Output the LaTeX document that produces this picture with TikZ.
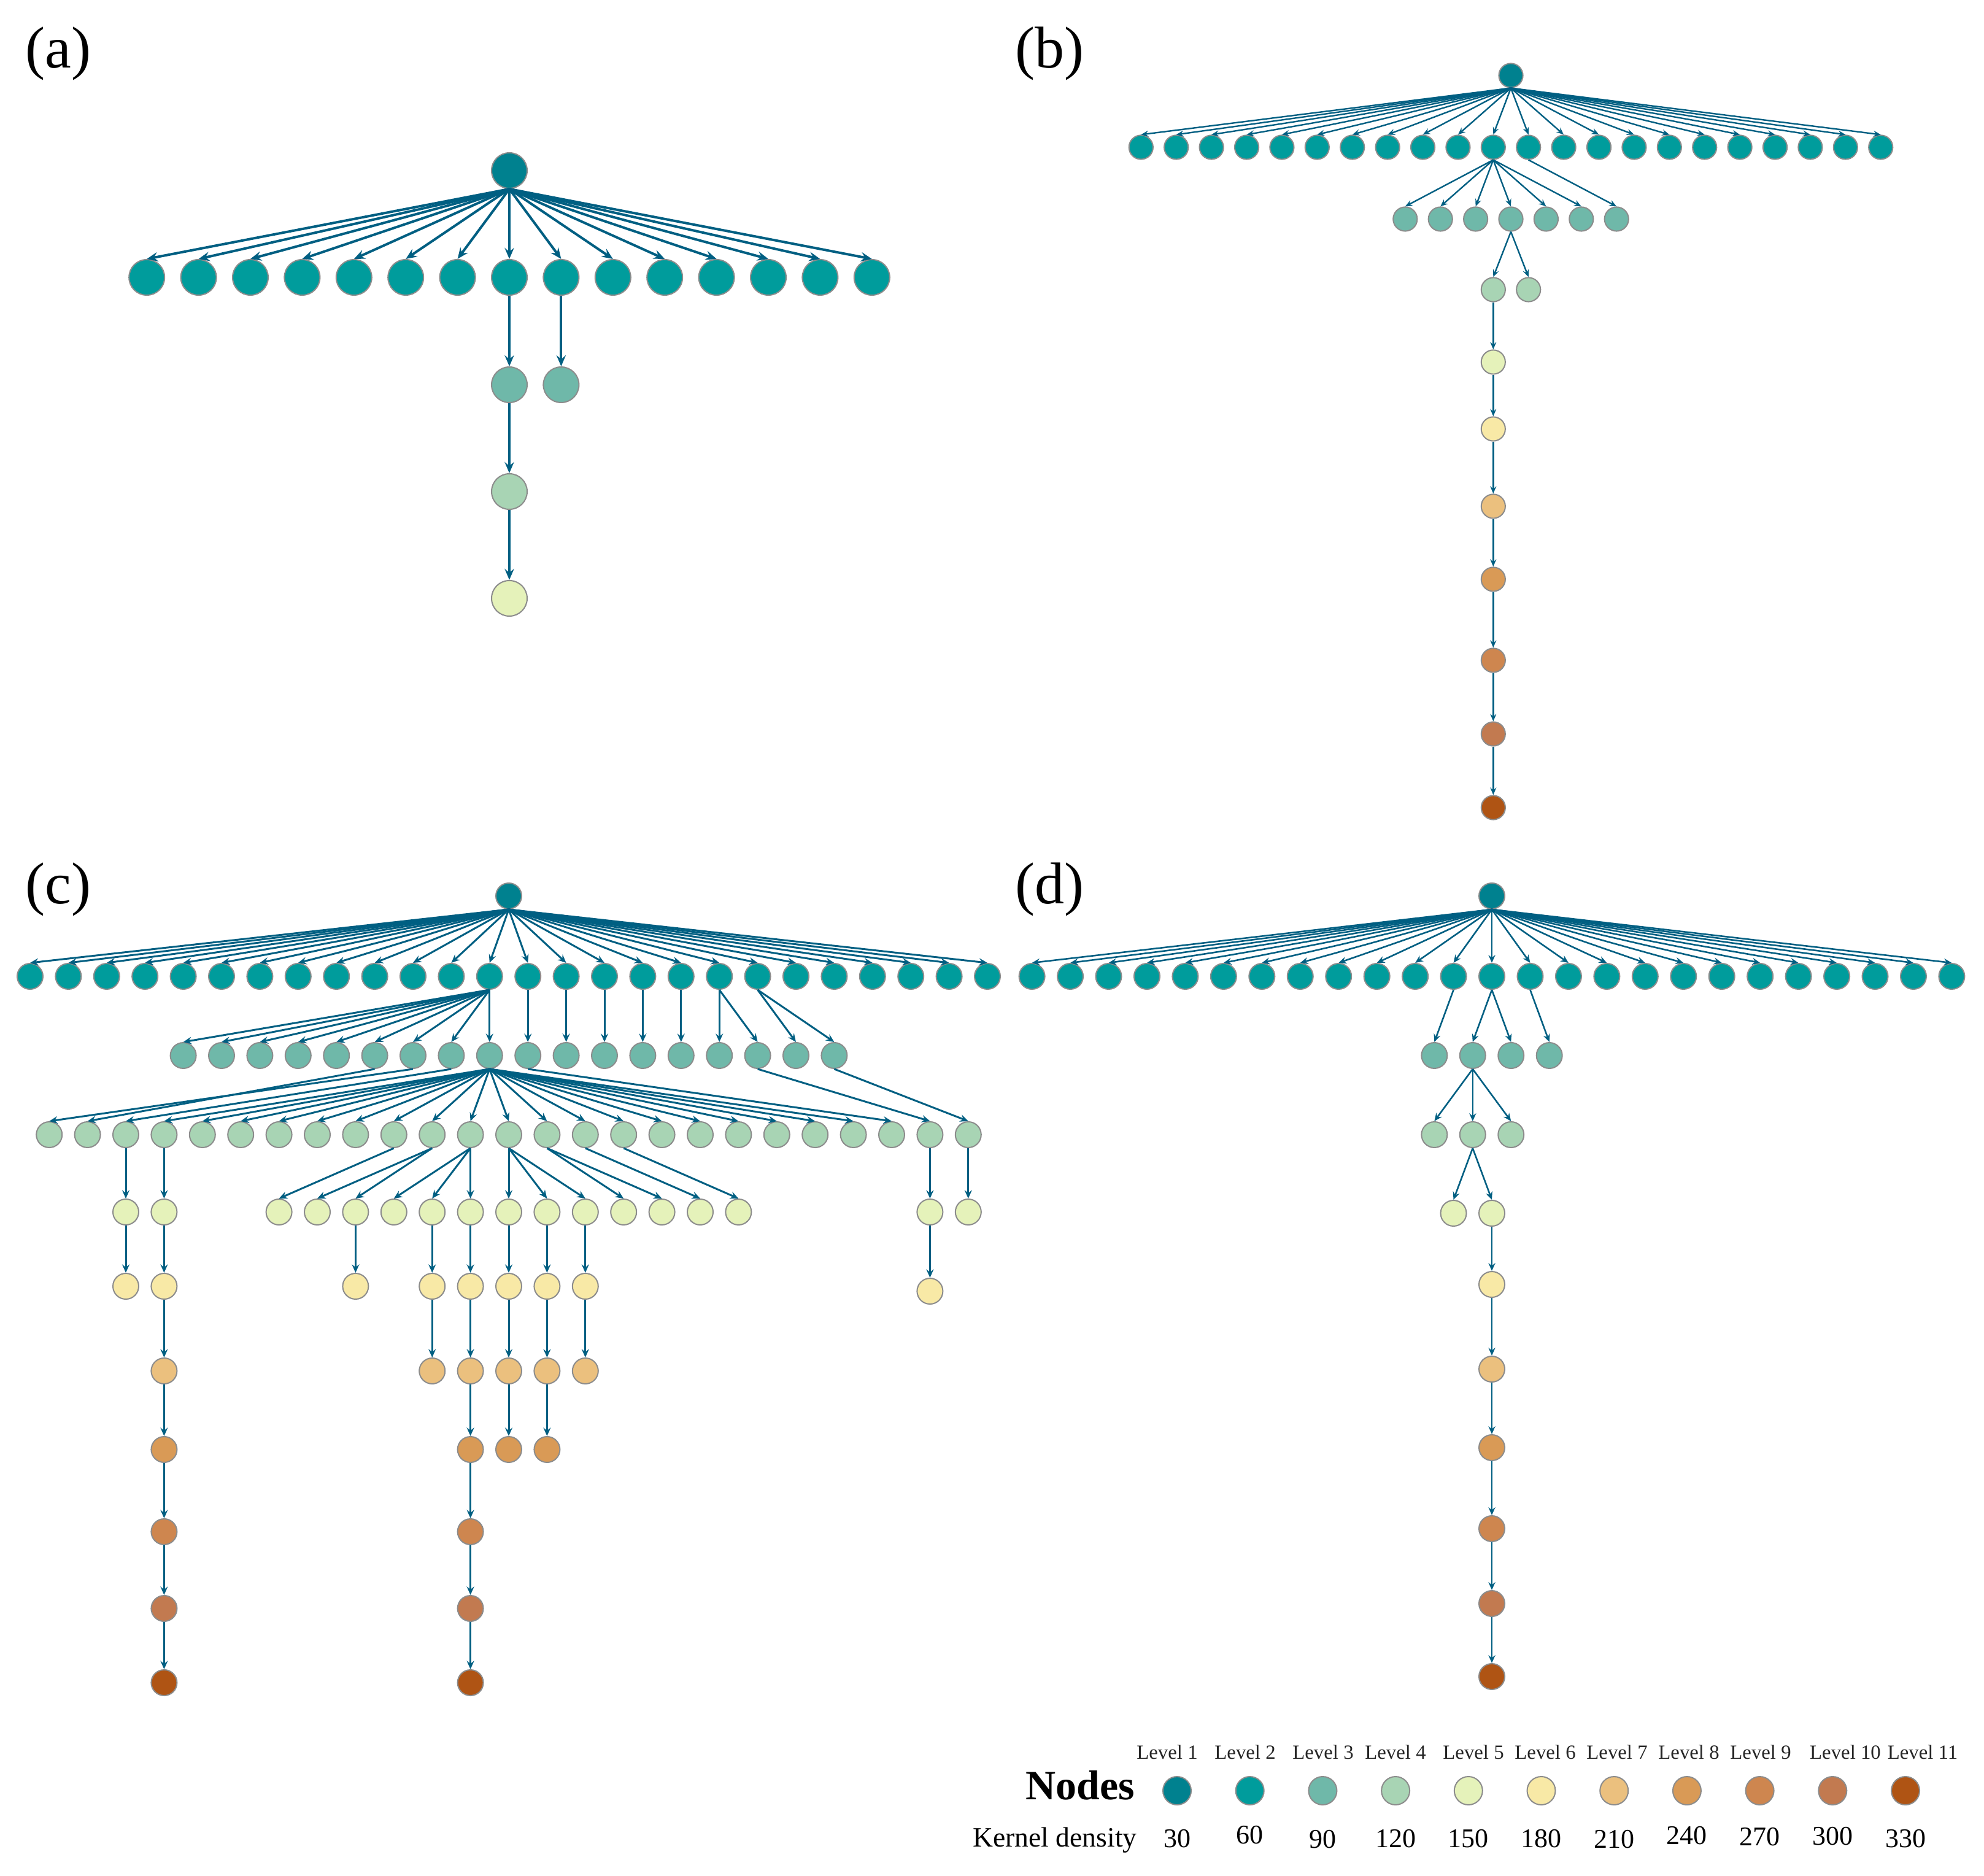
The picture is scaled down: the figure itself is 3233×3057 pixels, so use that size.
\documentclass[tikz,border=0pt]{standalone}
\usepackage{fontspec}
\setmainfont{Liberation Serif}
\usetikzlibrary{arrows.meta}
\definecolor{L1}{RGB}{0,129,143}
\definecolor{L2}{RGB}{0,156,156}
\definecolor{L3}{RGB}{111,184,169}
\definecolor{L4}{RGB}{168,212,180}
\definecolor{L5}{RGB}{229,242,186}
\definecolor{L6}{RGB}{248,233,166}
\definecolor{L7}{RGB}{235,192,126}
\definecolor{L8}{RGB}{217,154,86}
\definecolor{L9}{RGB}{206,134,79}
\definecolor{L10}{RGB}{194,122,80}
\definecolor{L11}{RGB}{175,84,20}
\definecolor{edgecol}{RGB}{0,95,130}
\definecolor{ndborder}{RGB}{140,140,140}
\tikzset{
  nd/.style={circle,draw=ndborder,line width=0.5pt,inner sep=0pt},
  nda/.style={nd,minimum size=14.5pt},
  ndb/.style={nd,minimum size=9.8pt},
  ndc/.style={nd,minimum size=10.5pt},
  lgnd/.style={nd,minimum size=11.5pt},
  eda/.style={draw=edgecol,line width=1pt,-{Stealth[length=4.5pt,width=3.8pt,inset=1.6pt]}},
  edb/.style={draw=edgecol,line width=0.6pt,-{Stealth[length=3pt,width=2.5pt,inset=1.1pt]}},
  edc/.style={draw=edgecol,line width=0.75pt,-{Stealth[length=3.4pt,width=3pt,inset=1.2pt]}},
  edd/.style={draw=edgecol,line width=0.65pt,-{Stealth[length=3.2pt,width=2.8pt,inset=1.1pt]}},
  plabel/.style={inner sep=0pt,anchor=base west,font=\fontsize{24pt}{28pt}\selectfont},
  lvlabel/.style={inner sep=0pt,anchor=base,text=black!85,font=\fontsize{8.2pt}{10pt}\selectfont},
  numlabel/.style={inner sep=0pt,anchor=base,font=\fontsize{11pt}{13pt}\selectfont}
}
\begin{document}
\begin{tikzpicture}[x=0.25pt,y=-0.25pt]
\useasboundingbox (0,0) rectangle (3233,3057);

% ---------- panel labels
\node[plabel] (la) at (41,111) {(a)};
\node[plabel] (lb) at (1654,111) {(b)};
\node[plabel] (lc) at (41,1472) {(c)};
\node[plabel] (ld) at (1654,1472) {(d)};

% ---------- panel (a)
\node[nda,fill=L1] (a0) at (830,278) {};
\foreach \i in {0,...,14} {
  \node[nda,fill=L2] (a2-\i) at ({830+84.4*(\i-7)},452) {};
  \draw[eda] (a0.south) -- (a2-\i.north);
}
\node[nda,fill=L3] (a3-0) at (830,627) {};
\node[nda,fill=L3] (a3-1) at (914.4,627) {};
\node[nda,fill=L4] (a4) at (830,801) {};
\node[nda,fill=L5] (a5) at (830,975) {};
\draw[eda] (a2-7.south) -- (a3-0.north);
\draw[eda] (a2-8.south) -- (a3-1.north);
\draw[eda] (a3-0.south) -- (a4.north);
\draw[eda] (a4.south) -- (a5.north);

% ---------- panel (b)
\node[ndb,fill=L1] (b0) at (2462,123) {};
\foreach \i in {0,...,21} {
  \node[ndb,fill=L2] (b2-\i) at ({2462+57.4*(\i-10.5)},240) {};
  \draw[edb] (b0.south) -- (b2-\i.north);
}
\foreach \m in {0,...,6} {
  \node[ndb,fill=L3] (b3-\m) at ({2462+57.4*(\m-3)},357) {};
}
\foreach \m in {0,...,5} { \draw[edb] (b2-10.south) -- (b3-\m.north); }
\draw[edb] (b2-11.south) -- (b3-6.north);
\node[ndb,fill=L4] (b4-0) at (2433.3,472) {};
\node[ndb,fill=L4] (b4-1) at (2490.7,472) {};
\draw[edb] (b3-3.south) -- (b4-0.north);
\draw[edb] (b3-3.south) -- (b4-1.north);
\node[ndb,fill=L5] (b5) at (2433.3,590) {};
\node[ndb,fill=L6] (b6) at (2433.3,699) {};
\node[ndb,fill=L7] (b7) at (2433.3,825) {};
\node[ndb,fill=L8] (b8) at (2433.3,944) {};
\node[ndb,fill=L9] (b9) at (2433.3,1076) {};
\node[ndb,fill=L10] (b10) at (2433.3,1196) {};
\node[ndb,fill=L11] (b11) at (2433.3,1316) {};
\draw[edb] (b4-0.south) -- (b5.north);
\draw[edb] (b5.south) -- (b6.north);
\draw[edb] (b6.south) -- (b7.north);
\draw[edb] (b7.south) -- (b8.north);
\draw[edb] (b8.south) -- (b9.north);
\draw[edb] (b9.south) -- (b10.north);
\draw[edb] (b10.south) -- (b11.north);

% ---------- panel (c)
\node[ndc,fill=L1] (c0) at (829,1460) {};
\foreach \i in {0,...,25} {
  \node[ndc,fill=L2] (c2-\i) at ({829+62.4*(\i-12.5)},1591) {};
  \draw[edc] (c0.south) -- (c2-\i.north);
}
\foreach \j in {0,...,17} {
  \node[ndc,fill=L3] (c3-\j) at ({829+62.4*(\j-8.5)},1720) {};
}
\foreach \j in {0,...,8} { \draw[edc] (c2-12.south) -- (c3-\j.north); }
\foreach \p/\q in {13/9,14/10,15/11,16/12,17/13,18/14,18/15,19/16,19/17} {
  \draw[edc] (c2-\p.south) -- (c3-\q.north);
}
\foreach \k in {0,...,24} {
  \node[ndc,fill=L4] (c4-\k) at ({829+62.4*(\k-12)},1849) {};
}
\foreach \k in {3,...,21} { \draw[edc] (c3-8.south) -- (c4-\k.north); }
\foreach \p/\q in {6/0,5/1,7/2,9/22,15/23,17/24} {
  \draw[edc] (c3-\p.south) -- (c4-\q.north);
}
\foreach \k in {2,3,6,7,8,9,10,11,12,13,14,15,16,17,18,23,24} {
  \node[ndc,fill=L5] (c5-\k) at ({829+62.4*(\k-12)},1975) {};
}
\foreach \p/\q in {2/2,3/3,9/6,10/7,10/8,11/9,11/10,11/11,12/12,12/13,12/14,13/15,13/16,14/17,15/18,23/23,24/24} {
  \draw[edc] (c4-\p.south) -- (c5-\q.north);
}
\foreach \k in {2,3,8,10,11,12,13,14} {
  \node[ndc,fill=L6] (c6-\k) at ({829+62.4*(\k-12)},2096) {};
}
\node[ndc,fill=L6] (c6-23) at ({829+62.4*11},2104) {};
\foreach \k in {2,3,8,10,11,12,13,14,23} { \draw[edc] (c5-\k.south) -- (c6-\k.north); }
\foreach \k in {3,10,11,12,13,14} {
  \node[ndc,fill=L7] (c7-\k) at ({829+62.4*(\k-12)},2234) {};
  \draw[edc] (c6-\k.south) -- (c7-\k.north);
}
\foreach \k in {3,11,12,13} {
  \node[ndc,fill=L8] (c8-\k) at ({829+62.4*(\k-12)},2362) {};
  \draw[edc] (c7-\k.south) -- (c8-\k.north);
}
\foreach \k in {3,11} {
  \node[ndc,fill=L9] (c9-\k) at ({829+62.4*(\k-12)},2496) {};
  \node[ndc,fill=L10] (c10-\k) at ({829+62.4*(\k-12)},2621) {};
  \node[ndc,fill=L11] (c11-\k) at ({829+62.4*(\k-12)},2742) {};
  \draw[edc] (c8-\k.south) -- (c9-\k.north);
  \draw[edc] (c9-\k.south) -- (c10-\k.north);
  \draw[edc] (c10-\k.south) -- (c11-\k.north);
}

% ---------- panel (d)
\node[ndc,fill=L1] (d0) at (2431,1460) {};
\foreach \i in {0,...,24} {
  \node[ndc,fill=L2] (d2-\i) at ({2431+62.45*(\i-12)},1591) {};
  \draw[edd] (d0.south) -- (d2-\i.north);
}
\foreach \m in {0,...,3} {
  \node[ndc,fill=L3] (d3-\m) at ({2431+62.45*(\m-1.5)},1720) {};
}
\foreach \p/\q in {11/0,12/1,12/2,13/3} { \draw[edd] (d2-\p.south) -- (d3-\q.north); }
\foreach \n in {0,1,2} {
  \node[ndc,fill=L4] (d4-\n) at ({2431+62.45*(\n-1.5)},1849) {};
  \draw[edd] (d3-1.south) -- (d4-\n.north);
}
\node[ndc,fill=L5] (d5-0) at (2368.5,1977) {};
\node[ndc,fill=L5] (d5-1) at (2431,1977) {};
\draw[edd] (d4-1.south) -- (d5-0.north);
\draw[edd] (d4-1.south) -- (d5-1.north);
\node[ndc,fill=L6] (d6) at (2431,2093) {};
\node[ndc,fill=L7] (d7) at (2431,2231) {};
\node[ndc,fill=L8] (d8) at (2431,2359) {};
\node[ndc,fill=L9] (d9) at (2431,2491) {};
\node[ndc,fill=L10] (d10) at (2431,2613) {};
\node[ndc,fill=L11] (d11) at (2431,2732) {};
\draw[edd] (d5-1.south) -- (d6.north);
\draw[edd] (d6.south) -- (d7.north);
\draw[edd] (d7.south) -- (d8.north);
\draw[edd] (d8.south) -- (d9.north);
\draw[edd] (d9.south) -- (d10.north);
\draw[edd] (d10.south) -- (d11.north);

% ---------- legend
\foreach \n/\lx/\num/\ny in {1/1902/30/3010,2/2029/60/3004,3/2156/90/3011,4/2274/120/3010,5/2401/150/3010,6/2518/180/3010,7/2635/210/3011,8/2752/240/3005,9/2869/270/3007,10/3007/300/3006,11/3133/330/3010} {
  \node[lgnd,fill=L\n] (lg-\n) at ({1918+118.7*(\n-1)},2918) {};
  \node[lvlabel] (lv-\n) at (\lx,2866) {Level \n};
  \node[numlabel] (kd-\n) at ({1918+118.7*(\n-1)},\ny) {\num};
}
\node[inner sep=0pt,anchor=base,font=\fontsize{17pt}{20pt}\selectfont\bfseries] (nodes) at (1760,2932) {Nodes};
\node[inner sep=0pt,anchor=base,font=\fontsize{11.4pt}{13pt}\selectfont] (kd) at (1719,3009) {Kernel density};
\end{tikzpicture}
\end{document}
